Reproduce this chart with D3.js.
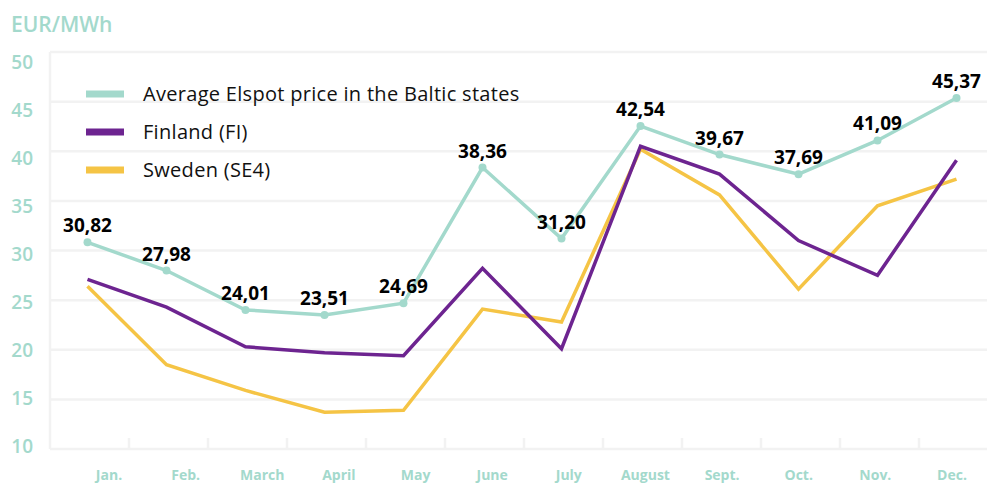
<!DOCTYPE html>
<html>
<head>
<meta charset="utf-8">
<script src="https://cdn.jsdelivr.net/npm/d3@7/dist/d3.min.js"></script>
<style>
  body { margin: 0; background: #fff; }
  svg { display: block; font-family: "Open Sans", sans-serif; }
</style>
</head>
<body>
<div id="chart"></div>
<script>
const months = ['Jan.', 'Feb.', 'March', 'April', 'May', 'June', 'July', 'August', 'Sept.', 'Oct.', 'Nov.', 'Dec.'];
const yTicks = [10, 15, 20, 25, 30, 35, 40, 45, 50];

const baltic = [30.82, 27.98, 24.01, 23.51, 24.69, 38.36, 31.20, 42.54, 39.67, 37.69, 41.09, 45.37];
const finland = [27.1, 24.3, 20.3, 19.7, 19.4, 28.2, 20.1, 40.5, 37.7, 31.0, 27.5, 39.1];
const sweden = [26.4, 18.5, 15.9, 13.7, 13.9, 24.1, 22.8, 40.2, 35.6, 26.1, 34.5, 37.2];

const seriesNames = ['Average Elspot price in the Baltic states', 'Finland (FI)', 'Sweden (SE4)'];
const colors = ['#a3d9cc', '#6d2490', '#f5c445'];

const width = 987, height = 486;
const margin = { top: 52, right: 0, bottom: 37, left: 50 };

const svg = d3.select('#chart')
    .append('svg')
    .attr('width', width)
    .attr('height', height);

const x = d3.scaleBand()
    .domain(months)
    .range([margin.left, margin.left + 79 * 12]);

const y = d3.scaleLinear()
    .domain([10, 50])
    .range([height - margin.bottom, margin.top]);

// labels sit on their own slightly tighter spacing in the original
const xLabel = d3.scalePoint().domain(months).range([109, 952]);
const yLabel = d3.scaleLinear().domain([10, 50]).range([446, 62]);

const px = m => x(m) + x.bandwidth() / 2 - 2;

// grid
svg.append('g')
    .selectAll('line')
    .data(yTicks)
    .enter().append('line')
    .attr('x1', margin.left)
    .attr('x2', width)
    .attr('y1', d => y(d))
    .attr('y2', d => y(d))
    .attr('stroke', '#f2f2f2')
    .attr('stroke-width', 2.5);

svg.append('line')
    .attr('x1', margin.left).attr('x2', margin.left)
    .attr('y1', y(50)).attr('y2', y(10))
    .attr('stroke', '#f2f2f2')
    .attr('stroke-width', 2.5);

// bottom tick marks
svg.append('g')
    .selectAll('line')
    .data(months.slice(1))
    .enter().append('line')
    .attr('x1', d => x(d)).attr('x2', d => x(d))
    .attr('y1', y(10) - 11).attr('y2', y(10))
    .attr('stroke', '#f2f2f2')
    .attr('stroke-width', 2.5);

// y labels
svg.append('g')
    .selectAll('text')
    .data(yTicks)
    .enter().append('text')
    .attr('x', 33)
    .attr('y', d => yLabel(d))
    .attr('dy', '0.35em')
    .attr('text-anchor', 'end')
    .attr('fill', '#a3d9cc')
    .style('font-size', '19px')
    .style('font-weight', 600)
    .text(d => d);

svg.append('text')
    .attr('x', 11)
    .attr('y', 25)
    .attr('dy', '0.35em')
    .attr('fill', '#a3d9cc')
    .style('font-size', '21px')
    .style('font-weight', 600)
    .text('EUR/MWh');

// x labels
svg.append('g')
    .selectAll('text')
    .data(months)
    .enter().append('text')
    .attr('x', d => xLabel(d))
    .attr('y', 475)
    .attr('dy', '0.35em')
    .attr('text-anchor', 'middle')
    .attr('fill', '#a3d9cc')
    .style('font-size', '14px')
    .style('font-weight', 700)
    .text(d => d);

const line = d3.line()
    .x((_, i) => px(months[i]))
    .y(d => y(d));

const createPath = (data, color) => {
    svg.append('path')
        .datum(data)
        .attr('fill', 'none')
        .attr('stroke', color)
        .attr('stroke-width', 3.5)
        .attr('stroke-linejoin', 'miter')
        .attr('d', line);
};

createPath(sweden, colors[2]);
createPath(finland, colors[1]);
createPath(baltic, colors[0]);

svg.append('g')
    .selectAll('circle')
    .data(baltic)
    .enter().append('circle')
    .attr('cx', (d, i) => px(months[i]))
    .attr('cy', d => y(d))
    .attr('r', 4)
    .attr('fill', colors[0]);

svg.append('g')
    .selectAll('text')
    .data(baltic)
    .enter().append('text')
    .attr('x', (d, i) => px(months[i]))
    .attr('y', d => y(d) - 10)
    .attr('text-anchor', 'middle')
    .attr('fill', '#000')
    .style('font-size', '19px')
    .style('font-weight', 700)
    .text(d => d.toFixed(2).replace('.', ','));

// legend
const legend = svg.append('g')
    .selectAll('g')
    .data(seriesNames)
    .enter().append('g')
    .attr('transform', (d, i) => `translate(86,${94 + i * 38})`);

legend.append('rect')
    .attr('x', 0)
    .attr('y', -3.5)
    .attr('width', 38)
    .attr('height', 7)
    .attr('fill', (d, i) => colors[i]);

legend.append('text')
    .attr('x', 57)
    .attr('y', 0)
    .attr('dy', '0.35em')
    .attr('fill', '#111')
    .style('font-size', '20px')
    .style('letter-spacing', '0.3px')
    .text(d => d);
</script>
</body>
</html>
